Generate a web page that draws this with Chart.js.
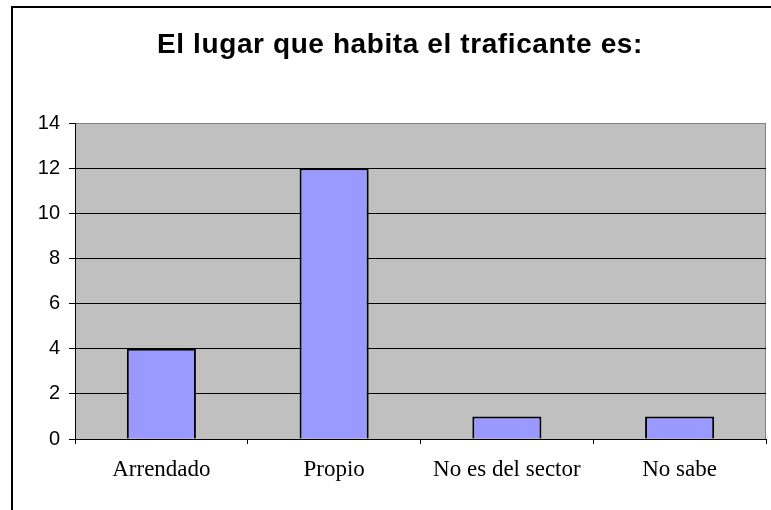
<!DOCTYPE html>
<html>
<head>
<meta charset="utf-8">
<script src="https://cdn.jsdelivr.net/npm/chart.js@4/dist/chart.umd.min.js"></script>
<style>
  html, body { margin: 0; padding: 0; background: #fff; }
  #wrap { width: 771px; height: 510px; }
</style>
</head>
<body>
<div id="wrap"><canvas id="chart" width="771" height="510"></canvas></div>
<script>
const chartTitle = 'El lugar que habita el traficante es:';
const categories = ['Arrendado', 'Propio', 'No es del sector', 'No sabe'];
const values = [4, 12, 1, 1];
const yMin = 0, yMax = 14, yStep = 2;

// frame, plot background and title drawn around the chart area
const framePlugin = {
    id: 'frame',
    beforeDraw(chart) {
        const ctx = chart.ctx;
        const a = chart.chartArea;
        ctx.save();
        ctx.fillStyle = '#fff';
        ctx.fillRect(0, 0, chart.width, chart.height);
        // outer border
        ctx.strokeStyle = '#000';
        ctx.lineWidth = 2;
        ctx.beginPath();
        ctx.moveTo(12, chart.height);
        ctx.lineTo(12, 7);
        ctx.lineTo(chart.width, 7);
        ctx.stroke();
        // plot background
        ctx.fillStyle = '#c0c0c0';
        ctx.fillRect(a.left, a.top, a.right - a.left, a.bottom - a.top);
        ctx.strokeStyle = '#808080';
        ctx.lineWidth = 1;
        ctx.beginPath();
        ctx.moveTo(a.right - 0.5, a.top);
        ctx.lineTo(a.right - 0.5, a.bottom);
        ctx.stroke();
        // title
        ctx.fillStyle = '#000';
        ctx.font = 'bold 28px "Liberation Sans", Arial, sans-serif';
        ctx.letterSpacing = '0.6px';
        ctx.textAlign = 'center';
        ctx.textBaseline = 'middle';
        ctx.fillText(chartTitle, 400, 45);
        ctx.letterSpacing = '0px';
        ctx.restore();
    }
};

new Chart(document.getElementById('chart'), {
    type: 'bar',
    data: {
        labels: categories,
        datasets: [{
            data: values,
            backgroundColor: '#9999ff',
            borderColor: '#000',
            borderWidth: 2,
            barPercentage: 0.4,
            categoryPercentage: 1.0
        }]
    },
    options: {
        responsive: false,
        animation: false,
        devicePixelRatio: 1,
        layout: { padding: { top: 123, right: 5, left: 0, bottom: 0 } },
        plugins: {
            legend: { display: false },
            title: { display: false },
            tooltip: { enabled: false }
        },
        scales: {
            x: {
                afterFit: s => { s.height = 71; },
                grid: {
                    drawOnChartArea: false,
                    drawTicks: true,
                    tickLength: 5,
                    color: '#000'
                },
                border: { color: '#000', width: 1 },
                ticks: {
                    color: '#000',
                    padding: 12,
                    font: { family: '"Liberation Serif", "Times New Roman", serif', size: 23 }
                }
            },
            y: {
                min: yMin,
                max: yMax,
                afterFit: s => { s.width = 75; },
                grid: {
                    color: ctx => ctx.tick && ctx.tick.value === yMax ? '#808080' : '#000',
                    tickColor: '#000',
                    tickLength: 6,
                    drawTicks: true
                },
                border: { color: '#000', width: 1 },
                ticks: {
                    stepSize: yStep,
                    color: '#000',
                    padding: 9,
                    font: { family: '"Liberation Sans", Arial, sans-serif', size: 20 }
                }
            }
        }
    },
    plugins: [framePlugin]
});
</script>
</body>
</html>
